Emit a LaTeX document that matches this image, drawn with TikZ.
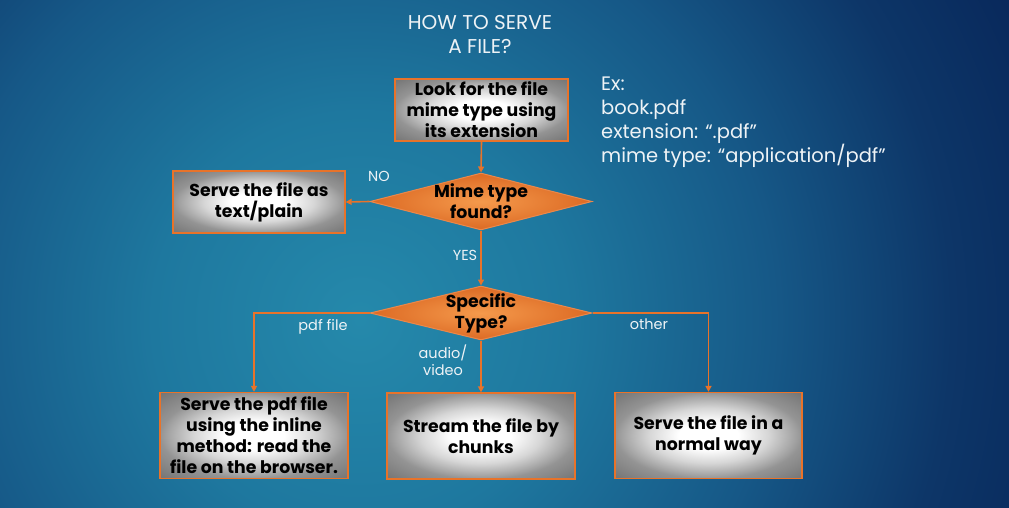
\documentclass[tikz,border=0pt]{standalone}
\usepackage{fontspec}
\setmainfont{Poppins}
\usetikzlibrary{shapes.geometric,arrows.meta,shadings}
\definecolor{bgA}{HTML}{2589AB}
\definecolor{bgB}{HTML}{1E789F}
\definecolor{bgC}{HTML}{165887}
\definecolor{bgD}{HTML}{0D3668}
\definecolor{bgE}{HTML}{08275A}
\definecolor{orA}{HTML}{F59A4C}
\definecolor{orB}{HTML}{DC6A24}
\definecolor{orline}{HTML}{E8732A}
\definecolor{txtw}{HTML}{EEF3F6}
\pgfdeclareradialshading{bgshade}{\pgfpoint{0bp}{0bp}}{color(0bp)=(bgA); color(7bp)=(bgB); color(14bp)=(bgC); color(20bp)=(bgD); color(25bp)=(bgE); color(50bp)=(bgE)}
\pgfdeclareradialshading{boxshade}{\pgfpoint{0bp}{0bp}}{color(0bp)=(white); color(8bp)=(white); color(16bp)=(white!84!black); color(23bp)=(white!64!black); color(25bp)=(white!58!black); color(35bp)=(white!46!black); color(50bp)=(white!46!black)}
\pgfdeclareradialshading{diashade}{\pgfpoint{0bp}{0bp}}{color(0bp)=(orA); color(10bp)=(orA!60!orB); color(25bp)=(orB); color(50bp)=(orB)}
\tikzset{
  stepbox/.style={draw=orline, line width=1.3pt, shading=boxshade, rectangle, inner sep=0pt,
    align=center, font=\bfseries\fontsize{17.3}{21}\selectfont, text=black},
  dia/.style={draw=orline!85!white, line width=1pt, shading=diashade, diamond, inner sep=0pt},
  diatext/.style={align=center, font=\bfseries\fontsize{17.3}{21}\selectfont, text=black, inner sep=0pt},
  conn/.style={draw=orline, line width=1.6pt, -{Triangle[length=6pt,width=6pt]}},
  lbl/.style={text=txtw, font=\fontsize{14.5}{17}\selectfont, align=center, inner sep=0pt},
}
\begin{document}
\begin{tikzpicture}[x=1pt,y=-1pt]
\useasboundingbox (0,0) rectangle (1009,507);
\fill[bgE] (0,0) rectangle (1009,507);
\begin{scope}
\clip (0,0) rectangle (1009,507);
\shade[shading=bgshade] (360,320) circle (740);
\end{scope}
% title
\node[lbl, font=\fontsize{20}{24}\selectfont] (title) at (480,34) {HOW TO SERVE\\A FILE?};
% example
\node[lbl, font=\fontsize{19.5}{23.8}\selectfont, align=left, anchor=north west] (ex) at (601,77) {Ex:\\book.pdf\\extension: “.pdf”\\mime type: “application/pdf”};
% boxes
\node[stepbox, minimum width=173, minimum height=62] (b1) at (481.5,110) {Look for the file\\mime type using\\its extension};
\node[stepbox, minimum width=172, minimum height=62] (b2) at (259,202) {Serve the file as\\text/plain};
\node[dia, minimum width=222, minimum height=57] (d1) at (481,201.5) {};
\node[diatext] (d1t) at (d1) {Mime type\\found?};
\node[dia, minimum width=222, minimum height=54] (d2) at (481,313) {};
\node[diatext] (d2t) at (d2) {Specific\\Type?};
\node[stepbox, minimum width=188, minimum height=86] (b3) at (254,435.5) {Serve the pdf file\\using the inline\\method: read the\\file on the browser.};
\node[stepbox, minimum width=188, minimum height=86] (b4) at (481,436) {Stream the file by\\chunks};
\node[stepbox, minimum width=187, minimum height=86] (b5) at (708.5,435.5) {Serve the file in a\\normal way};
% connectors
\draw[conn] (b1.south) -- (d1.north);
\draw[conn] (d1.west) -- (b2.east);
\draw[conn] (d1.south) -- (d2.north);
\draw[conn] (d2.west) -| (b3.north);
\draw[conn] (d2.south) -- (b4.north);
\draw[conn] (d2.east) -| (b5.north);
% labels
\node[lbl] (lno) at (379,176) {NO};
\node[lbl] (lyes) at (465,255) {YES};
\node[lbl] (lpdf) at (323,327) {pdf file};
\node[lbl] (lav) at (443,360) {audio/\\video};
\node[lbl] (loth) at (649,324) {other};
\end{tikzpicture}
\end{document}
